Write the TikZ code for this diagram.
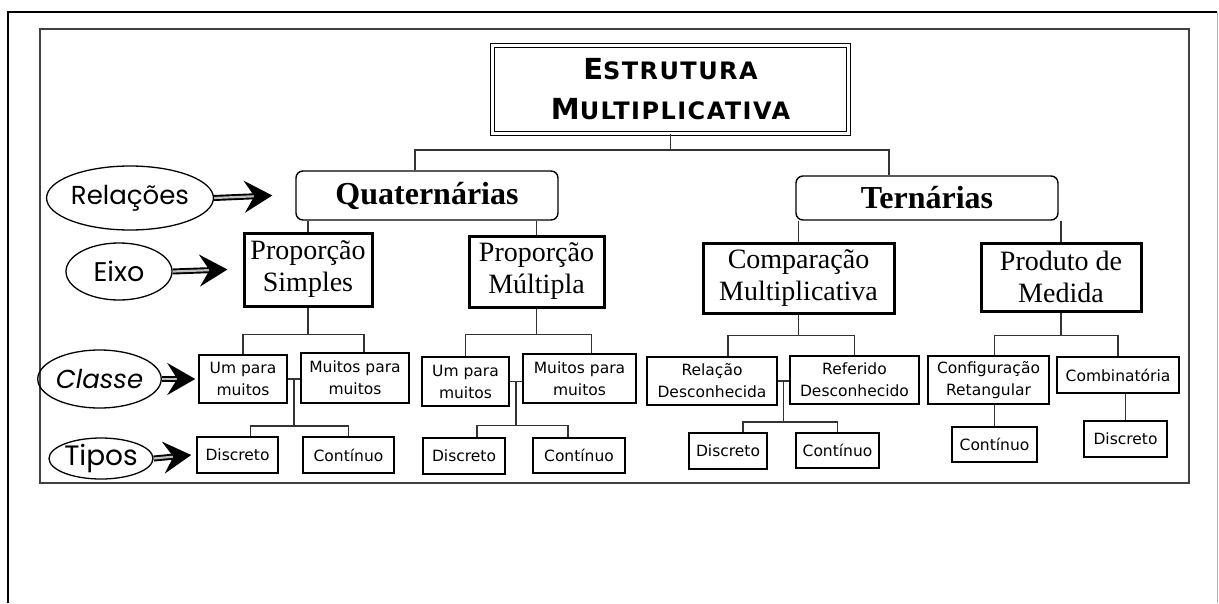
\documentclass[tikz,border=0pt]{standalone}
\usepackage{fontspec}
\setmainfont{Liberation Serif}
\newfontfamily\titlefont{DejaVu Sans}[LetterSpace=6]
\newfontfamily\boxfont{DejaVu Sans}
\newfontfamily\tagfont{Poppins}
\usepackage{tikz}
\usetikzlibrary{shapes,arrows.meta,positioning}
\tikzstyle{titlebox} = [draw, double, double distance=2.5pt, line width=1.3pt, rectangle,
    align=center, inner sep=0pt, font=\titlefont\bfseries\fontsize{29}{40}\selectfont]
\tikzstyle{relbox} = [draw, rounded corners=7pt, line width=1.4pt, rectangle, inner sep=0pt,
    font=\bfseries\fontsize{32}{38}\selectfont]
\tikzstyle{axisbox} = [draw, line width=3pt, rectangle, align=center, inner sep=0pt,
    font=\fontsize{28}{32}\selectfont]
\tikzstyle{leaf} = [draw, line width=1.5pt, rectangle, align=center, inner sep=0pt,
    font=\boxfont\fontsize{15.5}{22}\selectfont]
\tikzstyle{tag} = [draw, ellipse, line width=1.3pt, inner sep=0pt]
\tikzstyle{link} = [draw=black!80, line width=1.5pt]
\tikzstyle{dblarrow} = [draw=black!25, line width=2.2pt,
    -{Stealth[length=28pt,width=32pt,inset=10pt,color=black]},
    preaction={-, draw=black, line width=6pt, shorten >=18pt}]

\begin{document}
\begin{tikzpicture}[x=1pt, y=-1pt]
    \useasboundingbox (0,0) rectangle (1219,603);
    % frames round the scheme
    \draw[line width=2pt] (8,603) -- (8,12) -- (1217,12);
    \draw[black!30, line width=1pt] (1217,12) -- (1217,603);
    \draw[black!75, line width=1.8pt] (40,29) rectangle (1189,483);
    % We start by placing the top blocks
    \node[titlebox, minimum width=356pt, minimum height=88pt] (title) at (670.5,89.5)
        {E{\fontsize{24}{40}\selectfont STRUTURA}\\
         M{\fontsize{24}{40}\selectfont ULTIPLICATIVA}};
    \node[relbox, minimum width=262pt, minimum height=49pt] (quat) at (427,195.5) {Quaternárias};
    \node[relbox, minimum width=262pt, minimum height=44pt] (tern) at (927,198) {Ternárias};
    % axis blocks
    \node[axisbox, minimum width=128pt, minimum height=73pt] (ps) at (308,269.5) {Proporção\\Simples};
    \node[axisbox, minimum width=135pt, minimum height=71pt] (pm) at (536.5,271.5) {Proporção\\Múltipla};
    \node[axisbox, minimum width=191pt, minimum height=70pt] (cm) at (798.5,278) {Comparação\\Multiplicativa};
    \node[axisbox, minimum width=160pt, minimum height=68pt] (pdm) at (1061,277) {Produto de\\Medida};
    % classes and types
    \node[leaf, minimum width=88pt, minimum height=48pt] (a1) at (243,379) {Um para\\muitos};
    \node[leaf, minimum width=108pt, minimum height=50pt] (a2) at (355,378) {Muitos para\\muitos};
    \node[leaf, minimum width=81pt, minimum height=36pt] (a3) at (237.5,455) {Discreto};
    \node[leaf, minimum width=91pt, minimum height=36pt] (a4) at (348.5,455) {Contínuo};
    \node[leaf, minimum width=87pt, minimum height=49pt] (b1) at (465.5,381.5) {Um para\\muitos};
    \node[leaf, minimum width=113pt, minimum height=49pt] (b2) at (579.5,378.5) {Muitos para\\muitos};
    \node[leaf, minimum width=82pt, minimum height=36pt] (b3) at (464,456) {Discreto};
    \node[leaf, minimum width=92pt, minimum height=35pt] (b4) at (579,455.5) {Contínuo};
    \node[leaf, minimum width=130pt, minimum height=48pt] (c1) at (712,381) {Relação\\Desconhecida};
    \node[leaf, minimum width=129pt, minimum height=48pt] (c2) at (854.5,380) {Referido\\Desconhecido};
    \node[leaf, minimum width=78pt, minimum height=36pt] (c3) at (728,451) {Discreto};
    \node[leaf, minimum width=83pt, minimum height=35pt] (c4) at (837.5,450.5) {Contínuo};
    \node[leaf, minimum width=121pt, minimum height=48pt] (d1) at (988.5,380) {Configuração\\Retangular};
    \node[leaf, minimum width=122pt, minimum height=36pt] (d2) at (1118,375) {Combinatória};
    \node[leaf, minimum width=85pt, minimum height=35pt] (d3) at (994.5,444.5) {Contínuo};
    \node[leaf, minimum width=83pt, minimum height=36pt] (d4) at (1125.5,439) {Discreto};
    % labels on the left
    \node[tag, minimum width=154pt, minimum height=64pt, font=\tagfont\fontsize{26}{30}\selectfont] (rel) at (130,198) {Relações};
    \node[tag, minimum width=106pt, minimum height=57pt, font=\tagfont\fontsize{27}{30}\selectfont] (eixo) at (119,271.5) {Eixo};
    \node[tag, minimum width=109pt, minimum height=58pt, font=\tagfont\itshape\fontsize{26}{30}\selectfont] (classe) at (99.5,379) {Classe};
    \node[tag, minimum width=92pt, minimum height=41pt, font=\tagfont\fontsize{28}{30}\selectfont] (tipos) at (101,458.5) {Tipos};
    % tree lines
    \draw[link] (title.south) -- ++(0,16) coordinate (tj);
    \draw[link] (tj) -| ([xshift=-12pt]quat.north);
    \draw[link] (tj) -| ([xshift=-38pt]tern.north);
    \draw[link] (quat.south -| ps.north) -- (ps.north);
    \draw[link] (quat.south -| pm.north) -- (pm.north);
    \draw[link] (tern.south -| cm.north) -- (cm.north);
    \draw[link] (tern.south -| pdm.north) -- (pdm.north);
    \draw[link] (ps.south) -- ++(0,27) coordinate (psj);
    \draw[link] (a1.north) |- (psj) -| ([xshift=9pt]a2.north);
    \draw[link] (a1.east) -- coordinate (am) (a1.east -| a2.west);
    \draw[link] (am) -- ++(0,47) coordinate (aj);
    \draw[link] ([xshift=13pt]a3.north) |- (aj) -| (a4.north);
    \draw[link] (pm.south) -- ++(0,26) coordinate (pmj);
    \draw[link] (b1.north) |- (pmj) -| ([xshift=12pt]b2.north);
    \draw[link] (b1.east) -- coordinate (bm) (b1.east -| b2.west);
    \draw[link] (bm) -- ++(0,44) coordinate (bj);
    \draw[link] ([xshift=13pt]b3.north) |- (bj) -| ([xshift=-11pt]b4.north);
    \draw[link] (cm.south) -- ++(0,21) coordinate (cmj);
    \draw[link] ([xshift=16pt]c1.north) |- (cmj) -| (c2.north);
    \draw[link] (c1.east) -- coordinate (cm2) (c1.east -| c2.west);
    \draw[link] (cm2) -- ++(0,41) coordinate (cj);
    \draw[link] ([xshift=15pt]c3.north) |- (cj) -| (c4.north);
    \draw[link] (pdm.south) -- ++(0,23) coordinate (pdj);
    \draw[link] ([xshift=6pt]d1.north) |- (pdj) -| (d2.north);
    \draw[link] (d3.north) -- (d3.north |- d1.south);
    \draw[link] (d4.north) -- (d4.north |- d2.south);
    % arrows from the labels
    \draw[dblarrow] (rel.east) -- ([xshift=-23pt]quat.west);
    \draw[dblarrow] (eixo.east) -- ([xshift=-15pt]ps.west);
    \draw[dblarrow] (classe.east) -- ([xshift=-3pt]a1.west);
    \draw[dblarrow] (tipos.east) -- ([xshift=-5pt]a3.west);
\end{tikzpicture}
\end{document}
